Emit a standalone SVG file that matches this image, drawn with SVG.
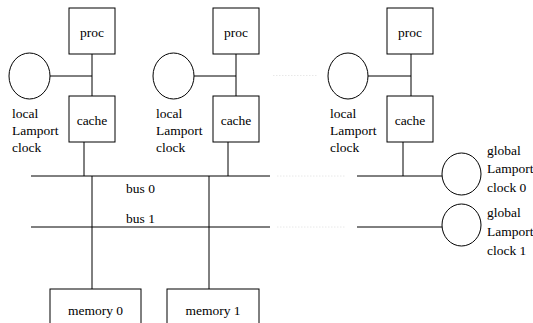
<svg xmlns="http://www.w3.org/2000/svg" width="533" height="323" viewBox="0 0 533 323">
<style>
.b{fill:#fff;stroke:#000;stroke-width:1}
.l{stroke:#000;stroke-width:1;fill:none}
.d{stroke:#e8e8e8;stroke-width:1;stroke-dasharray:1.5 1.5;fill:none}
text{font-family:"Liberation Serif","Times New Roman",serif;font-size:13.5px;fill:#000}
.c{text-anchor:middle}
</style>
<g id="connectors">
<line class="l" x1="92" y1="54" x2="92" y2="96"/>
<line class="l" x1="50" y1="76" x2="92" y2="76"/>
<line class="l" x1="84" y1="142" x2="84" y2="176"/>
<line class="l" x1="236" y1="54" x2="236" y2="96"/>
<line class="l" x1="194" y1="76" x2="236" y2="76"/>
<line class="l" x1="228" y1="142" x2="228" y2="176"/>
<line class="l" x1="411" y1="54" x2="411" y2="96"/>
<line class="l" x1="368" y1="76" x2="411" y2="76"/>
<line class="l" x1="403" y1="142" x2="403" y2="176"/>
<line class="d" x1="273" y1="75.5" x2="317" y2="75.5"/>
<line class="l" x1="31" y1="176" x2="270" y2="176"/>
<line class="d" x1="277" y1="176" x2="345" y2="176"/>
<line class="l" x1="357" y1="176" x2="442" y2="176"/>
<line class="l" x1="31" y1="227" x2="270" y2="227"/>
<line class="d" x1="277" y1="227" x2="345" y2="227"/>
<line class="l" x1="357" y1="227" x2="442" y2="227"/>
<line class="l" x1="92" y1="176" x2="92" y2="289"/>
<line class="l" x1="209" y1="176" x2="209" y2="289"/>
</g>
<g id="proc0"><rect class="b" x="69" y="8" width="46" height="46"/><text class="c" x="92" y="37">proc</text></g>
<g id="cache0"><rect class="b" x="69" y="96" width="46" height="46"/><text class="c" x="92" y="125">cache</text></g>
<g id="clock0"><ellipse class="b" cx="29.5" cy="76" rx="20.5" ry="23"/><text x="12" y="118">local</text><text x="12" y="135">Lamport</text><text x="12" y="152">clock</text></g>
<g id="proc1"><rect class="b" x="213" y="8" width="46" height="46"/><text class="c" x="236" y="37">proc</text></g>
<g id="cache1"><rect class="b" x="213" y="96" width="46" height="46"/><text class="c" x="236" y="125">cache</text></g>
<g id="clock1"><ellipse class="b" cx="173.5" cy="76" rx="20.5" ry="23"/><text x="156" y="118">local</text><text x="156" y="135">Lamport</text><text x="156" y="152">clock</text></g>
<g id="proc2"><rect class="b" x="387" y="8" width="46" height="46"/><text class="c" x="410" y="37">proc</text></g>
<g id="cache2"><rect class="b" x="387" y="96" width="46" height="46"/><text class="c" x="410" y="125">cache</text></g>
<g id="clock2"><ellipse class="b" cx="348" cy="76" rx="20" ry="23"/><text x="330" y="118">local</text><text x="330" y="135">Lamport</text><text x="330" y="152">clock</text></g>
<g id="bus0"><text x="126" y="193">bus 0</text></g>
<g id="bus1"><text x="126" y="223">bus 1</text></g>
<g id="gclock0"><ellipse class="b" cx="461.5" cy="174" rx="19.5" ry="21"/><text x="487" y="155">global</text><text x="487" y="173">Lamport</text><text x="487" y="192">clock 0</text></g>
<g id="gclock1"><ellipse class="b" cx="461.5" cy="225" rx="19.5" ry="21"/><text x="487" y="217">global</text><text x="487" y="236">Lamport</text><text x="487" y="255">clock 1</text></g>
<g id="memory0"><rect class="b" x="50" y="289" width="91" height="40"/><text class="c" x="95.5" y="315">memory 0</text></g>
<g id="memory1"><rect class="b" x="167" y="289" width="92" height="40"/><text class="c" x="213" y="315">memory 1</text></g>
</svg>
